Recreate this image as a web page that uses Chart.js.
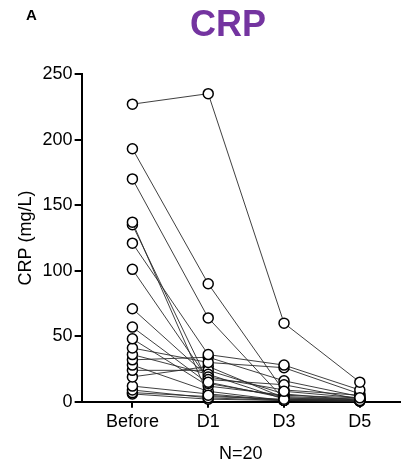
<!DOCTYPE html>
<html>
<head>
<meta charset="utf-8">
<script src="https://cdn.jsdelivr.net/npm/chart.js@4.4.1/dist/chart.umd.min.js"></script>
<style>
    html, body { margin: 0; padding: 0; background: #fff; }
    #wrap { position: relative; width: 401px; height: 465px; }
    #panel { position: absolute; left: 26px; top: 6px; font: bold 15px "Liberation Sans", Arial, sans-serif; color: #000; }
    #title { position: absolute; left: 228px; top: 3px; transform: translateX(-50%); font: bold 36px "Liberation Sans", Arial, sans-serif; color: #7434a0; }
</style>
</head>
<body>
<div id="wrap">
    <canvas id="crpChart" width="401" height="465"></canvas>
    <div id="panel">A</div>
    <div id="title">CRP</div>
</div>
<script>
// time points and per-patient CRP (mg/L), index = patient
const categories = ['Before', 'D1', 'D3', 'D5'];
const before = [227, 193, 170, 137, 135, 121, 101, 71, 57, 48, 41, 36, 32, 28, 24, 19, 12, 9, 7, 6];
const day1   = [235, 90, 64, 5, 15, 36, 17, 19, 14, 12, 30, 21, 34, 8, 24, 27, 6, 3, 4, 2];
const day3   = [60, 8, 2, 1, 3, 28, 13, 9, 4, 5, 26, 2, 16, 1, 6, 3, 1, 1, 2, 1];
const day5   = [15, 3, 1, 1, 2, 9, 2, 5, 2, 3, 6, 1, 4, 1, 1, 1, 1, 0.5, 1, 0.5];
const yTicks = [0, 50, 100, 150, 200, 250];

const series = [before, day1, day3, day5];
const datasets = before.map((_, p) => ({
    data: series.map((s, i) => ({ x: i, y: s[p] })),
    borderColor: '#2a2a2a',
    borderWidth: 0.9,
    pointRadius: 5,
    pointBorderWidth: 1.5,
    pointBorderColor: '#000',
    pointBackgroundColor: '#fff',
    clip: false
}));

const font = { family: '"Liberation Sans", Arial, sans-serif', size: 18 };

new Chart(document.getElementById('crpChart'), {
    type: 'line',
    data: { datasets },
    options: {
        responsive: false,
        animation: false,
        layout: { autoPadding: false, padding: { top: 74, right: 1, left: 15, bottom: 0 } },
        plugins: { legend: { display: false }, tooltip: { enabled: false } },
        scales: {
            x: {
                type: 'linear',
                min: -0.67,
                max: 3.53,
                afterBuildTicks: (scale) => { scale.ticks = categories.map((c, i) => ({ value: i })); },
                ticks: { color: '#000', font, padding: 3, callback: (v) => categories[v] },
                grid: { display: true, drawOnChartArea: false, drawTicks: true, tickLength: 6, color: '#000', lineWidth: 2 },
                border: { display: true, color: '#000', width: 2 },
                title: { display: true, text: 'N=20', color: '#000', font, padding: { top: 8, bottom: 0 } }
            },
            y: {
                min: 0,
                max: 250,
                afterBuildTicks: (scale) => { scale.ticks = yTicks.map(v => ({ value: v })); },
                ticks: { color: '#000', font, padding: 2 },
                grid: { display: true, drawOnChartArea: false, drawTicks: true, tickLength: 7, color: '#000', lineWidth: 2 },
                border: { display: true, color: '#000', width: 2 },
                title: { display: true, text: 'CRP (mg/L)', color: '#000', font, padding: { top: 0, bottom: 4 } }
            }
        }
    }
});
</script>
</body>
</html>
